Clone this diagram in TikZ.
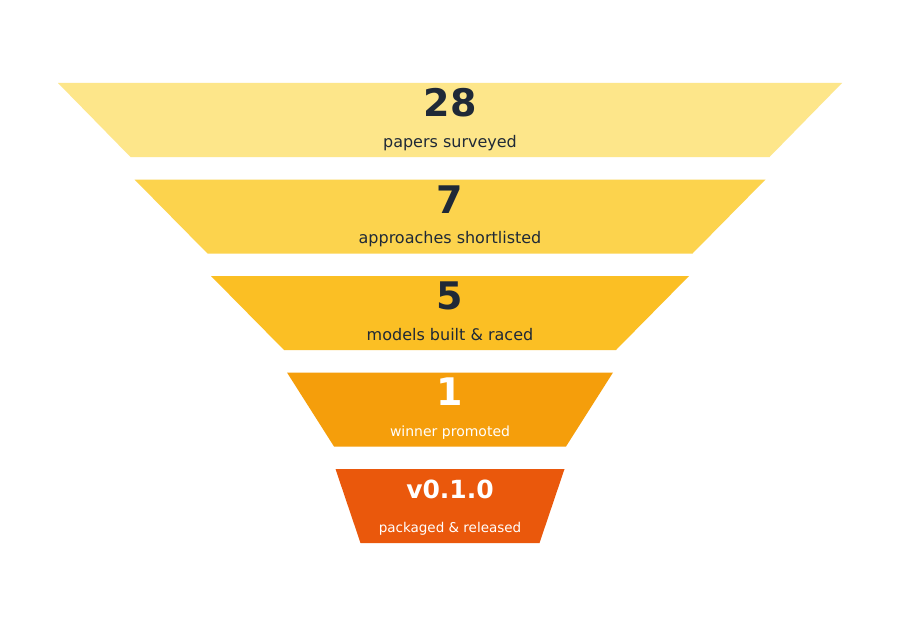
\documentclass[tikz,border=0pt]{standalone}
\usepackage{fontspec}
\setmainfont{DejaVu Sans}
\definecolor{tierA}{HTML}{FDE68A}
\definecolor{tierB}{HTML}{FCD34D}
\definecolor{tierC}{HTML}{FBBF24}
\definecolor{tierD}{HTML}{F59E0B}
\definecolor{tierE}{HTML}{EA580C}
\definecolor{ink}{HTML}{1F2937}
\begin{document}
\begin{tikzpicture}[x=1pt,y=-1pt,
  num/.style={anchor=base,inner sep=0pt,font=\fontsize{38}{40}\selectfont\bfseries},
  lbl/.style={anchor=base,inner sep=0pt,font=\fontsize{16}{18}\selectfont},
  lblsmall/.style={anchor=base,inner sep=0pt,font=\fontsize{14}{16}\selectfont},
  lbltiny/.style={anchor=base,inner sep=0pt,font=\fontsize{13.5}{15}\selectfont}]
\useasboundingbox[fill=white] (0,0) rectangle (900,626);
\fill[tierA] (58,83) -- (842,83) -- (769.5,157) -- (130.5,157) -- cycle;
\fill[tierB] (134.5,179.5) -- (765.5,179.5) -- (692.5,253.5) -- (207.5,253.5) -- cycle;
\fill[tierC] (211,276) -- (689,276) -- (616,350) -- (284,350) -- cycle;
\fill[tierD] (287,372.5) -- (613,372.5) -- (566,446.5) -- (334,446.5) -- cycle;
\fill[tierE] (335.5,469) -- (564.5,469) -- (539.5,543) -- (360.5,543) -- cycle;
\node[num,text=ink] (n1) at (450,116.5) {28};
\node[lbl,text=ink] (l1) at (450,147.5) {papers surveyed};
\node[num,text=ink] (n2) at (450,213) {7};
\node[lbl,text=ink] (l2) at (450,243.5) {approaches shortlisted};
\node[num,text=ink] (n3) at (450,309.5) {5};
\node[lbl,text=ink] (l3) at (450,340) {models built \& raced};
\node[num,text=white] (n4) at (450,405.5) {1};
\node[lblsmall,text=white] (l4) at (450,436) {winner promoted};
\node[inner sep=0pt,anchor=base,text=white,font=\fontsize{25}{27}\selectfont\bfseries] (n5) at (450,498.5) {v0.1.0};
\node[lbltiny,text=white] (l5) at (450,532) {packaged \& released};
\end{tikzpicture}
\end{document}
